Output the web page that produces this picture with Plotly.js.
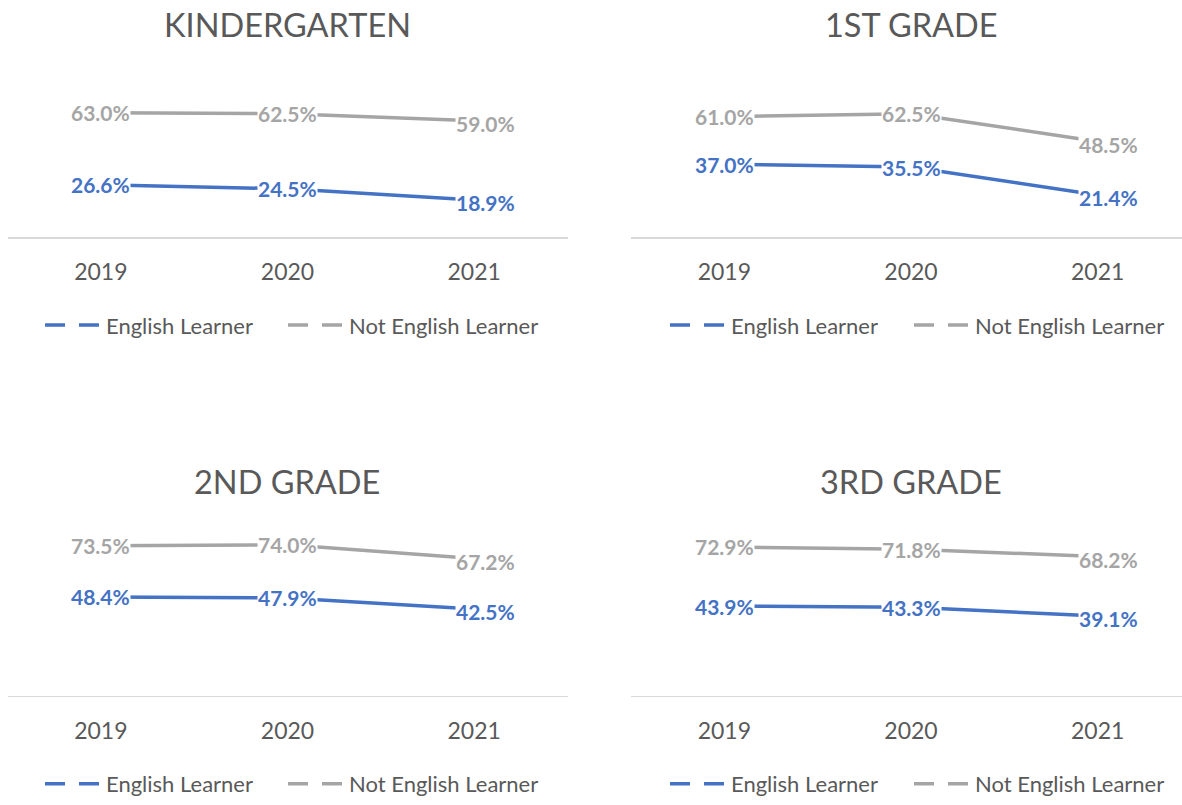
<!DOCTYPE html>
<html>
<head>
<meta charset="utf-8">
<script src="https://cdn.plot.ly/plotly-3.0.1.min.js"></script>
<style>html,body{margin:0;padding:0;background:#fff;}#chart{width:1182px;height:805px;}</style>
</head>
<body>
<div id="chart"></div>
<script>
// ---- data ----
const years = ['2019', '2020', '2021'];
const panelTitles = ['KINDERGARTEN', '1ST GRADE', '2ND GRADE', '3RD GRADE'];
const seriesNames = ['English Learner', 'Not English Learner'];
const elK = [26.6, 24.5, 18.9];
const notElK = [63.0, 62.5, 59.0];
const el1 = [37.0, 35.5, 21.4];
const notEl1 = [61.0, 62.5, 48.5];
const el2 = [48.4, 47.9, 42.5];
const notEl2 = [73.5, 74.0, 67.2];
const el3 = [43.9, 43.3, 39.1];
const notEl3 = [72.9, 71.8, 68.2];

// ---- styling / layout ----
const W = 1182, H = 805;
const BLUE = '#4472C4', GRAY = '#A5A5A5', TXT = '#595959';
const FONT = 'Lato, Carlito, Calibri, sans-serif';
const panelData = [[elK, notElK], [el1, notEl1], [el2, notEl2], [el3, notEl3]];
const colors = [BLUE, GRAY];

// pixel geometry per panel
const geo = [
  {x0: 7.5, x1: 567.5, xmaxFull: 567.5, zero: 240, top: 80, titleY: 25, legY: 329, legX: [45, 288]},
  {x0: 631, x1: 1182, xmaxFull: 1191, zero: 240, top: 80, titleY: 25, legY: 329, legX: [670, 914]},
  {x0: 7.5, x1: 567.5, xmaxFull: 567.5, zero: 703.5, top: 538.5, titleY: 487, legY: 793, legX: [45, 288]},
  {x0: 631, x1: 1182, xmaxFull: 1191, zero: 703.5, top: 538.5, titleY: 487, legY: 793, legX: [670, 914]}
];
const titleCx = [287, 911, 287, 911];
const LEG_SYMBOL_OFFSET = 5;

const traces = [];
const annotations = [];
const layout = {
  width: W, height: H,
  margin: {l: 0, r: 0, t: 0, b: 0},
  paper_bgcolor: '#fff', plot_bgcolor: '#fff',
  font: {family: FONT, color: TXT},
  showlegend: true
};

panelData.forEach((series, i) => {
  const n = i + 1;
  const xa = n === 1 ? 'x' : 'x' + n;
  const ya = n === 1 ? 'y' : 'y' + n;
  const g = geo[i];
  const spacing = (g.xmaxFull - g.x0) / 3;
  const rmax = 2.5 - (g.xmaxFull - g.x1) / spacing;

  layout['xaxis' + (n === 1 ? '' : n)] = {
    domain: [g.x0 / W, g.x1 / W],
    anchor: ya,
    type: 'category',
    range: [-0.5, rmax],
    showgrid: false, zeroline: false,
    showline: true, linecolor: '#D9D9D9', linewidth: 1.5,
    ticks: '',
    ticklabelstandoff: 14,
    tickfont: {family: FONT, size: 23, color: TXT},
    fixedrange: true
  };
  layout['yaxis' + (n === 1 ? '' : n)] = {
    domain: [1 - g.zero / H, 1 - g.top / H],
    anchor: xa,
    range: [0, 80],
    showgrid: false, zeroline: false, showline: false,
    showticklabels: false, ticks: '',
    fixedrange: true
  };

  series.forEach((vals, s) => {
    traces.push({
      type: 'scatter', mode: 'lines',
      x: years, y: vals,
      xaxis: xa, yaxis: ya,
      line: {color: colors[s], width: 3.5},
      showlegend: false, hoverinfo: 'skip'
    });
  });
  series.forEach((vals, s) => {
    const k = i * 2 + s + 1;
    const legName = k === 1 ? 'legend' : 'legend' + k;
    traces.push({
      type: 'scatter', mode: 'lines',
      x: years, y: years.map(() => null),
      xaxis: xa, yaxis: ya,
      name: seriesNames[s],
      legend: legName,
      line: {color: colors[s], width: 3.5, dash: '20px,14px'},
      showlegend: true, hoverinfo: 'skip'
    });
    layout[legName] = {
      orientation: 'h',
      x: (g.legX[s] - LEG_SYMBOL_OFFSET) / W, xanchor: 'left',
      y: 1 - g.legY / H, yanchor: 'middle',
      font: {family: FONT, size: 22, color: TXT},
      bgcolor: 'rgba(0,0,0,0)',
      itemwidth: 56,
      itemclick: false, itemdoubleclick: false
    };
  });

  series.forEach((vals, s) => {
    vals.forEach((v, j) => {
      annotations.push({
        xref: xa, yref: ya,
        x: j, y: v,
        text: '<b>' + v.toFixed(1) + '%</b>',
        showarrow: false,
        bgcolor: '#ffffff',
        borderpad: 0,
        xshift: j === 2 ? 11 : 0,
        yshift: j === 2 ? -3 : 0,
        font: {family: FONT, size: 21, color: colors[s]}
      });
    });
  });

  annotations.push({
    xref: 'paper', yref: 'paper',
    x: titleCx[i] / W, y: 1 - g.titleY / H,
    xanchor: 'center', yanchor: 'middle',
    text: panelTitles[i],
    showarrow: false,
    font: {family: FONT, size: 32.5, color: TXT}
  });
});
layout.annotations = annotations;

Plotly.newPlot('chart', traces, layout, {displayModeBar: false, staticPlot: true});
</script>
</body>
</html>
